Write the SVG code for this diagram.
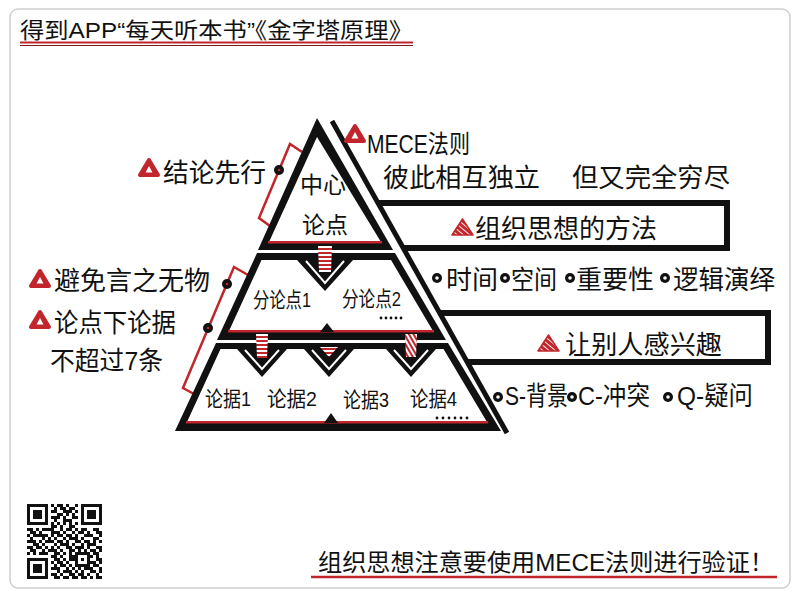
<svg xmlns="http://www.w3.org/2000/svg" width="800" height="600" viewBox="0 0 800 600">
<defs>
<style>
text{font-family:"Liberation Sans","Noto Sans CJK SC",sans-serif;fill:#111}
.t26{font-size:26px}
.t19{font-size:21px}
.blk{fill:#111}
.wht{fill:#fff}
.red{fill:#c0262c}
.conn{stroke:#111;fill:none;stroke-width:6;stroke-linejoin:miter}
.br{stroke:#c0262c;stroke-width:2.5;fill:none;stroke-linejoin:miter}
.vl{stroke:#fff;stroke-width:2;fill:none}
</style>
<pattern id="hs" width="4" height="4" patternUnits="userSpaceOnUse"><rect width="4" height="4" fill="#fff"/><rect width="4" height="2" fill="#c0262c"/></pattern>
<pattern id="ds" width="4" height="4" patternUnits="userSpaceOnUse" patternTransform="rotate(-50)"><rect width="4" height="4" fill="#fff"/><rect width="3.1" height="4" fill="#c0262c"/></pattern>
<pattern id="ds2" width="4" height="4" patternUnits="userSpaceOnUse" patternTransform="rotate(60)"><rect width="4" height="4" fill="#fff"/><rect width="4" height="2" fill="#c0262c"/></pattern>
<g id="tri"><polygon points="2,-2 20,-2 11,-17" fill="#c0262c" stroke="#c0262c" stroke-width="4" stroke-linejoin="round"/><polygon points="7.5,-4.5 14.5,-4.5 11,-11" fill="#fff"/></g>
<g id="stri"><polygon points="0,0 21,0 10.5,-16" fill="url(#ds)" stroke="#c0262c" stroke-width="1.5" stroke-linejoin="round"/></g>
<g id="bul"><circle r="5" fill="#111"/><circle r="1.8" fill="#fff"/></g>
<g id="dot"><circle r="5" fill="#111"/><circle r="1.3" fill="#c0262c"/></g>
</defs>

<rect x="0" y="0" width="800" height="600" fill="#fff"/>
<rect id="frame" x="10" y="9" width="780" height="579" rx="8" fill="#fff" stroke="#cfcfcf" stroke-width="1.5"/>

<g id="title">
<text x="20" y="38" font-size="22" textLength="393" lengthAdjust="spacingAndGlyphs">得到APP“每天听本书”《金字塔原理》</text>
<line x1="20" y1="42.5" x2="413" y2="42.5" stroke="#c0262c" stroke-width="2"/>
<line x1="20" y1="45.5" x2="413" y2="45.5" stroke="#7a1a1a" stroke-width="1.2"/>
</g>

<g id="connectors">
<line x1="332" y1="121" x2="507" y2="433" stroke="#111" stroke-width="5"/>
<polyline class="conn" points="378,203 727,203 727,248 403,248"/>
<polyline class="conn" points="440,313 768,313 768,362 468,362"/>
<polyline class="br" points="302,152 290,144 259,218 270,226"/>
<polyline class="br" points="248,275 234,267 183,388 194,394"/>
<use href="#dot" x="279" y="170"/>
<use href="#dot" x="227" y="284"/>
<use href="#dot" x="208" y="328"/>
</g>

<g id="node-center">
<polygon class="blk" points="317,118 258,250 393,250"/>
<polygon class="wht" points="317,137 269,242 381,242"/>
<rect class="red" x="268" y="241" width="114" height="2.5"/>
<text x="323" y="193" font-size="23" text-anchor="middle">中心</text>
<text x="325" y="233" font-size="23" text-anchor="middle">论点</text>
</g>

<g id="node-sub">
<polygon class="blk" points="257,253 395,253 446,340 217,340"/>
<polygon class="wht" points="261.5,260 297,260 325,291 353,260 391,260 433,331 229,331"/>
<rect class="red" x="228" y="330" width="206" height="2.5"/>
<polyline class="vl" points="306,261 325,283 344,261"/>
<polygon points="318,246 332,246 331,272 319,272" fill="url(#hs)"/>
<polygon class="blk" points="320,332 334,332 327,323"/>
<text class="t19" x="253" y="307" textLength="58" lengthAdjust="spacingAndGlyphs">分论点1</text>
<text class="t19" x="342" y="306" textLength="59" lengthAdjust="spacingAndGlyphs">分论点2</text>
<g class="blk"><circle cx="381" cy="318" r="1.4"/><circle cx="386" cy="318" r="1.4"/><circle cx="391" cy="318" r="1.4"/><circle cx="396" cy="318" r="1.4"/><circle cx="401" cy="318" r="1.4"/></g>
</g>

<g id="node-evidence">
<polygon class="blk" points="216,343 448,343 501,431 175,431"/>
<polygon class="wht" points="220.5,349 237,349 262,377 287,349 304,349 329,377 354,349 386,349 411,377 436,349 443.5,349 487,422 187,422"/>
<rect class="red" x="186" y="421" width="302" height="2.5"/>
<polyline class="vl" points="245,350 262,369 279,350"/>
<polyline class="vl" points="312,350 329,369 346,350"/>
<polyline class="vl" points="394,350 411,369 428,350"/>
<polygon points="256,334 268,334 267,358 257,358" fill="url(#hs)"/>
<polygon points="405,334 417,334 416,357 406,357" fill="url(#ds2)"/>
<polygon points="320,347 338,347 329,357" fill="url(#hs)"/>
<polygon class="blk" points="324,423 338,423 331,413"/>
<text class="t19" x="205" y="406" textLength="46" lengthAdjust="spacingAndGlyphs">论据1</text>
<text class="t19" x="267" y="406" textLength="50" lengthAdjust="spacingAndGlyphs">论据2</text>
<text class="t19" x="343" y="407" textLength="46" lengthAdjust="spacingAndGlyphs">论据3</text>
<text class="t19" x="410" y="406" textLength="47" lengthAdjust="spacingAndGlyphs">论据4</text>
<g class="blk"><circle cx="437" cy="418" r="1.4"/><circle cx="443" cy="418" r="1.4"/><circle cx="449" cy="418" r="1.4"/><circle cx="455" cy="418" r="1.4"/><circle cx="461" cy="418" r="1.4"/><circle cx="467" cy="418" r="1.4"/></g>
</g>

<g id="label-mece">
<use href="#tri" x="344" y="143"/>
<text x="367" y="153" font-size="25" textLength="103" lengthAdjust="spacingAndGlyphs">MECE法则</text>
<text class="t26" x="383" y="187" textLength="157" lengthAdjust="spacingAndGlyphs">彼此相互独立</text>
<text class="t26" x="572" y="187" textLength="158" lengthAdjust="spacingAndGlyphs">但又完全穷尽</text>
</g>

<g id="label-method">
<use href="#stri" x="452" y="235"/>
<text class="t26" x="475" y="238" textLength="182" lengthAdjust="spacingAndGlyphs">组织思想的方法</text>
</g>

<g id="label-order">
<use href="#bul" x="437" y="278"/>
<text class="t26" x="446" y="289" textLength="52" lengthAdjust="spacingAndGlyphs">时间</text>
<use href="#bul" x="505" y="278"/>
<text class="t26" x="511" y="289" textLength="46" lengthAdjust="spacingAndGlyphs">空间</text>
<use href="#bul" x="570" y="278"/>
<text class="t26" x="576" y="289" textLength="78" lengthAdjust="spacingAndGlyphs">重要性</text>
<use href="#bul" x="665" y="278"/>
<text class="t26" x="673" y="289" textLength="102" lengthAdjust="spacingAndGlyphs">逻辑演绎</text>
</g>

<g id="label-interest">
<use href="#stri" x="538" y="351"/>
<text class="t26" x="565" y="354" textLength="157" lengthAdjust="spacingAndGlyphs">让别人感兴趣</text>
</g>

<g id="label-scq">
<use href="#bul" x="498" y="397"/>
<text class="t26" x="505" y="405" textLength="63" lengthAdjust="spacingAndGlyphs">S-背景</text>
<use href="#bul" x="572" y="397"/>
<text class="t26" x="578" y="405" textLength="72" lengthAdjust="spacingAndGlyphs">C-冲突</text>
<use href="#bul" x="668" y="397"/>
<text class="t26" x="677" y="405" textLength="76" lengthAdjust="spacingAndGlyphs">Q-疑问</text>
</g>

<g id="label-conclusion">
<use href="#tri" x="138" y="177"/>
<text class="t26" x="163" y="182" textLength="103" lengthAdjust="spacingAndGlyphs">结论先行</text>
</g>

<g id="label-avoid">
<use href="#tri" x="29" y="288"/>
<text class="t26" x="54" y="290" textLength="156" lengthAdjust="spacingAndGlyphs">避免言之无物</text>
</g>

<g id="label-limit">
<use href="#tri" x="29" y="329"/>
<text class="t26" x="54" y="332" textLength="122" lengthAdjust="spacingAndGlyphs">论点下论据</text>
<text class="t26" x="50" y="370" textLength="113" lengthAdjust="spacingAndGlyphs">不超过7条</text>
</g>

<g id="qr" fill="#111">
<rect x="28.5" y="505.5" width="18" height="18" fill="none" stroke="#111" stroke-width="3"/>
<rect x="33" y="510" width="9" height="9"/>
<rect x="82.5" y="505.5" width="18" height="18" fill="none" stroke="#111" stroke-width="3"/>
<rect x="87" y="510" width="9" height="9"/>
<rect x="28.5" y="559.5" width="18" height="18" fill="none" stroke="#111" stroke-width="3"/>
<rect x="33" y="564" width="9" height="9"/>
<rect x="76.5" y="553.5" width="12" height="12" fill="none" stroke="#111" stroke-width="3"/>
<rect x="81" y="558" width="3" height="3"/>
<path d="M51 504h3v3h-3zM57 504h6v3h-6zM66 504h3v3h-3zM75 504h3v3h-3z
M54 507h3v3h-3zM60 507h6v3h-6zM69 507h6v3h-6z
M51 510h6v3h-6zM63 510h9v3h-9zM75 510h3v3h-3z
M57 513h6v3h-6zM66 513h3v3h-3zM72 513h3v3h-3z
M51 516h9v3h-9zM63 516h3v3h-3zM72 516h6v3h-6z
M54 519h3v3h-3zM63 519h9v3h-9z
M51 522h3v3h-3zM57 522h3v3h-3zM63 522h3v3h-3zM69 522h3v3h-3zM75 522h3v3h-3z
M51 525h6v3h-6zM60 525h3v3h-3zM69 525h6v3h-6z
M27 528h6v3h-6zM36 528h3v3h-3zM42 528h12v3h-12zM60 528h3v3h-3zM66 528h6v3h-6zM75 528h3v3h-3zM81 528h6v3h-6zM93 528h6v3h-6z
M30 531h6v3h-6zM39 531h3v3h-3zM51 531h9v3h-9zM63 531h3v3h-3zM72 531h3v3h-3zM78 531h6v3h-6zM87 531h3v3h-3zM96 531h6v3h-6z
M27 534h3v3h-3zM33 534h15v3h-15zM51 534h3v3h-3zM57 534h6v3h-6zM66 534h6v3h-6zM75 534h3v3h-3zM84 534h9v3h-9zM99 534h3v3h-3z
M30 537h3v3h-3zM42 537h3v3h-3zM48 537h3v3h-3zM54 537h3v3h-3zM63 537h3v3h-3zM69 537h9v3h-9zM81 537h3v3h-3zM93 537h6v3h-6z
M27 540h9v3h-9zM39 540h3v3h-3zM45 540h9v3h-9zM57 540h6v3h-6zM66 540h3v3h-3zM75 540h6v3h-6zM84 540h6v3h-6zM93 540h3v3h-3zM99 540h3v3h-3z
M33 543h6v3h-6zM42 543h3v3h-3zM54 543h3v3h-3zM60 543h9v3h-9zM72 543h3v3h-3zM81 543h3v3h-3zM87 543h9v3h-9z
M27 546h6v3h-6zM36 546h6v3h-6zM45 546h3v3h-3zM51 546h3v3h-3zM57 546h3v3h-3zM66 546h6v3h-6zM75 546h9v3h-9zM87 546h3v3h-3zM96 546h6v3h-6z
M30 549h6v3h-6zM42 549h3v3h-3zM48 549h9v3h-9zM60 549h3v3h-3zM69 549h6v3h-6zM78 549h3v3h-3zM84 549h3v3h-3zM90 549h6v3h-6zM99 549h3v3h-3z
M27 552h3v3h-3zM33 552h3v3h-3zM39 552h9v3h-9zM54 552h6v3h-6zM63 552h3v3h-3zM69 552h3v3h-3zM93 552h6v3h-6z
M51 555h6v3h-6zM60 555h3v3h-3zM69 555h6v3h-6zM90 555h3v3h-3zM96 555h3v3h-3z
M54 558h6v3h-6zM63 558h3v3h-3zM69 558h6v3h-6zM96 558h6v3h-6z
M51 561h3v3h-3zM57 561h6v3h-6zM66 561h3v3h-3zM90 561h6v3h-6zM99 561h3v3h-3z
M54 564h3v3h-3zM60 564h6v3h-6zM69 564h3v3h-3zM93 564h6v3h-6z
M51 567h9v3h-9zM66 567h3v3h-3zM72 567h3v3h-3zM78 567h3v3h-3zM84 567h9v3h-9zM99 567h3v3h-3z
M57 570h3v3h-3zM63 570h9v3h-9zM75 570h3v3h-3zM81 570h3v3h-3zM90 570h6v3h-6zM99 570h3v3h-3z
M51 573h6v3h-6zM60 573h3v3h-3zM69 573h6v3h-6zM78 573h6v3h-6zM87 573h3v3h-3zM96 573h3v3h-3z
M54 576h6v3h-6zM63 576h6v3h-6zM72 576h6v3h-6zM81 576h6v3h-6zM90 576h3v3h-3zM96 576h6v3h-6z"/>
</g>

<g id="footer">
<text x="318" y="571" font-size="24" textLength="456" lengthAdjust="spacingAndGlyphs">组织思想注意要使用MECE法则进行验证！</text>
<line x1="311" y1="577" x2="777" y2="577" stroke="#c0262c" stroke-width="2.5"/>
</g>
</svg>
